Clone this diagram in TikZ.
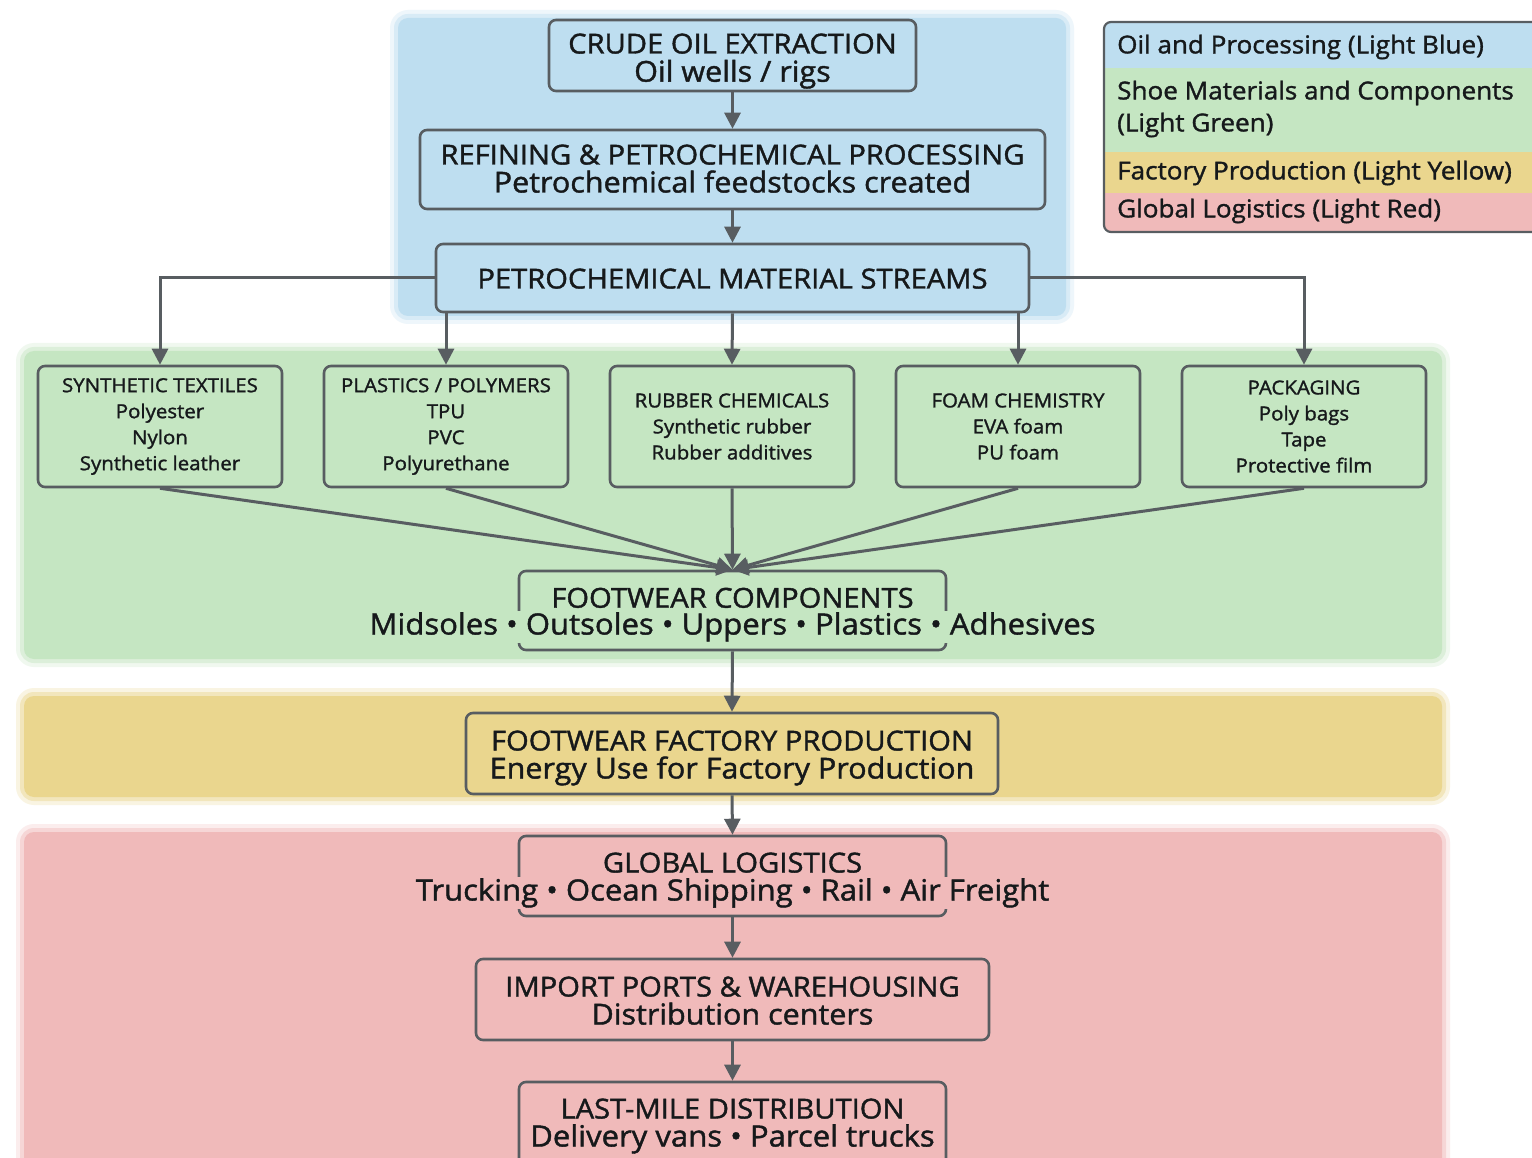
\documentclass[tikz,border=0pt]{standalone}
\usepackage{fontspec}
\setmainfont{Open Sans}[FakeStretch=1.06, FakeBold=1.4]
\usetikzlibrary{arrows.meta}
\definecolor{bandblue}{RGB}{190,222,240}
\definecolor{bandgreen}{RGB}{197,230,194}
\definecolor{bandyellow}{RGB}{234,214,142}
\definecolor{bandred}{RGB}{240,186,186}
\definecolor{linegray}{RGB}{88,93,97}
\definecolor{inkdark}{RGB}{22,25,27}
\newcommand\softband[5]{%
  \fill[#1,opacity=0.25,rounded corners=18] (#2-8,#3-8) rectangle (#4+8,#5+8);
  \fill[#1,opacity=0.45,rounded corners=14] (#2-4,#3-4) rectangle (#4+4,#5+4);
  \fill[#1,rounded corners=10] (#2,#3) rectangle (#4,#5);}
\begin{document}
\begin{tikzpicture}[x=1pt,y=-1pt,
  flowbox/.style={draw=linegray, line width=2.6pt, rounded corners=7pt, inner sep=0pt},
  smallbox/.style={flowbox, minimum width=244pt, minimum height=121pt, align=center,
     text=inkdark, font=\fontsize{19.3}{26}\selectfont},
  capline/.style={text=inkdark, inner sep=0pt, anchor=base, font=\fontsize{27.5}{28}\selectfont},
  lowline/.style={text=inkdark, inner sep=0pt, anchor=base, font=\fontsize{28.8}{28}\selectfont},
  dotline/.style={text=inkdark, inner sep=0pt, anchor=base, font=\fontsize{29.3}{28}\selectfont},
  legtext/.style={text=inkdark, inner sep=0pt, anchor=west, align=left,
     font=\fontsize{24.6}{32}\selectfont},
  arr/.style={draw=linegray, line width=3pt, -{Triangle[length=16pt,width=16pt]}}]
\fill[white] (0,0) rectangle (1532,1158);
\clip (0,0) rectangle (1532,1158);
% bands
\softband{bandblue}{398}{18}{1066}{316}
\softband{bandgreen}{24}{351}{1442}{659}
\softband{bandyellow}{24}{696}{1442}{797}
\softband{bandred}{24}{832}{1442}{1175}
% legend
\begin{scope}
  \clip[rounded corners=7pt] (1104,22) rectangle (1548,232);
  \fill[bandblue] (1104,22) rectangle (1548,68);
  \fill[bandgreen] (1104,68) rectangle (1548,152);
  \fill[bandyellow] (1104,152) rectangle (1548,193);
  \fill[bandred] (1104,193) rectangle (1548,232);
\end{scope}
\draw[linegray, line width=2.2pt, rounded corners=7pt] (1104,22) rectangle (1548,232);
\node[legtext] (lg1) at (1117,47) {Oil and Processing (Light Blue)};
\node[legtext] (lg2) at (1117,109) {Shoe Materials and Components\\(Light Green)};
\node[legtext] (lg3) at (1117,173) {Factory Production (Light Yellow)};
\node[legtext] (lg4) at (1117,211) {Global Logistics (Light Red)};
% oil stage
\node[flowbox, fill=bandblue, minimum width=367pt, minimum height=71pt] (cr) at (732.5,55.5) {};
\node[capline] (cr1) at (732.5,53.5) {CRUDE OIL EXTRACTION};
\node[lowline] (cr2) at (732.5,81.7) {Oil wells / rigs};
\node[flowbox, fill=bandblue, minimum width=625pt, minimum height=79pt] (rf) at (732.5,169.5) {};
\node[capline] (rf1) at (732.5,164.5) {REFINING \& PETROCHEMICAL PROCESSING};
\node[lowline] (rf2) at (732.5,192.5) {Petrochemical feedstocks created};
\node[flowbox, fill=bandblue, minimum width=593pt, minimum height=68pt] (st) at (732.5,278) {};
\node[capline] (st1) at (732.5,288.5) {PETROCHEMICAL MATERIAL STREAMS};
% material boxes
\node[smallbox, fill=bandgreen] (b1) at (160,426.5) {SYNTHETIC TEXTILES\\Polyester\\Nylon\\Synthetic leather};
\node[smallbox, fill=bandgreen] (b2) at (446,426.5) {PLASTICS / POLYMERS\\TPU\\PVC\\Polyurethane};
\node[smallbox, fill=bandgreen] (b3) at (732,426.5) {RUBBER CHEMICALS\\Synthetic rubber\\Rubber additives};
\node[smallbox, fill=bandgreen] (b4) at (1018,426.5) {FOAM CHEMISTRY\\EVA foam\\PU foam};
\node[smallbox, fill=bandgreen] (b5) at (1304,426.5) {PACKAGING\\Poly bags\\Tape\\Protective film};
% components
\node[flowbox, fill=bandgreen, minimum width=427pt, minimum height=79pt] (fc) at (732.5,610.5) {};
\node[capline] (fc1) at (732.5,607.7) {FOOTWEAR COMPONENTS};
\node[dotline, fill=bandgreen, inner xsep=2pt, inner ysep=1pt] (fc2) at (732.5,634.5)
  {Midsoles • Outsoles • Uppers • Plastics • Adhesives};
% factory
\node[flowbox, fill=bandyellow, minimum width=532pt, minimum height=81pt] (fp) at (732,753.5) {};
\node[capline] (fp1) at (732,750.5) {FOOTWEAR FACTORY PRODUCTION};
\node[lowline] (fp2) at (732,778.5) {Energy Use for Factory Production};
% logistics
\node[flowbox, fill=bandred, minimum width=427pt, minimum height=80pt] (gl) at (732.5,876) {};
\node[capline] (gl1) at (732.5,872.5) {GLOBAL LOGISTICS};
\node[dotline, fill=bandred, inner xsep=2pt, inner ysep=1pt] (gl2) at (732.5,900.5)
  {Trucking • Ocean Shipping • Rail • Air Freight};
\node[flowbox, fill=bandred, minimum width=513pt, minimum height=81pt] (ip) at (732.5,999.5) {};
\node[capline] (ip1) at (732.5,996.5) {IMPORT PORTS \& WAREHOUSING};
\node[lowline] (ip2) at (732.5,1024.5) {Distribution centers};
\node[flowbox, fill=bandred, minimum width=427pt, minimum height=90pt] (lm) at (732.5,1127) {};
\node[capline] (lm1) at (732.5,1118.5) {LAST-MILE DISTRIBUTION};
\node[dotline] (lm2) at (732.5,1146.5) {Delivery vans • Parcel trucks};
% connectors
\draw[arr] (cr.south) -- (rf.north);
\draw[arr] (rf.south) -- (st.north);
\draw[arr] (st.west) -| (b1.north);
\draw[arr] (st.east) -| (b5.north);
\draw[arr] (st.south -| b2.north) -- (b2.north);
\draw[arr] (st.south) -- (b3.north);
\draw[arr] (st.south -| b4.north) -- (b4.north);
\draw[arr] (b1.south) -- (fc.north);
\draw[arr] (b2.south) -- (fc.north);
\draw[arr] (b3.south) -- (fc.north);
\draw[arr] (b4.south) -- (fc.north);
\draw[arr] (b5.south) -- (fc.north);
\draw[arr] (fc.south) -- (fp.north);
\draw[arr] (fp.south) -- (gl.north);
\draw[arr] (gl.south) -- (ip.north);
\draw[arr] (ip.south) -- (lm.north);
\end{tikzpicture}
\end{document}
